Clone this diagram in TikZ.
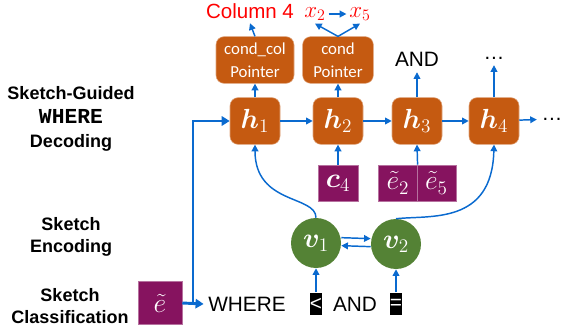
\documentclass[tikz,border=0pt]{standalone}
\usepackage{amsmath,amssymb,bm}
\usepackage{fontspec}
\setmainfont{Liberation Sans}
\setmonofont{Liberation Mono}
\newfontfamily\calibri{Carlito}
\usepackage{tikz}
\usetikzlibrary{arrows.meta}

\definecolor{hOrange}{HTML}{C55A11}
\definecolor{ePurple}{HTML}{86135F}
\definecolor{vGreen}{HTML}{548235}
\definecolor{aBlue}{HTML}{0A6ACF}

\tikzset{
  hbox/.style={fill=hOrange, draw=hOrange!55!white, line width=0.4pt, rounded corners=6pt,
    minimum width=37.5pt, minimum height=35pt, text=white, font=\huge, inner sep=0pt},
  ptrbox/.style={fill=hOrange, draw=hOrange!55!white, line width=0.4pt, rounded corners=6pt,
    minimum height=35pt, text=white, align=center, inner sep=0pt,
    font=\calibri\fontsize{12.6}{17}\selectfont},
  ebox/.style={fill=ePurple, draw=ePurple!60!white, line width=0.4pt, minimum height=27pt,
    text=white, font=\huge, inner sep=0pt},
  vnode/.style={circle, fill=vGreen, minimum size=37.5pt, text=white, font=\huge, inner sep=0pt},
  tok/.style={fill=black, text=white, minimum width=9pt, minimum height=17pt, inner sep=0pt,
    font=\fontsize{15.6}{18}\selectfont},
  arr/.style={draw=aBlue, line width=1.1pt, -{Triangle[length=5pt,width=5pt]}},
  bigarr/.style={draw=aBlue, line width=2.2pt, -{Triangle[length=6pt,width=7pt]}},
  side/.style={font=\bfseries\fontsize{13.5}{17}\selectfont, align=center},
  word/.style={font=\fontsize{15.6}{18}\selectfont},
}

\begin{document}
\begin{tikzpicture}[x=0.75pt,y=-0.75pt]
        \useasboundingbox (0,0) rectangle (562,335);

        % stage labels
        \node[side] (lbldec) at (71,119) {Sketch-Guided\\[1pt]{\ttfamily\fontsize{16}{18}\selectfont WHERE}\\[1pt]Decoding};
        \node[side] (lblenc) at (71,237) {Sketch\\Encoding};
        \node[side] (lblcls) at (70,306) {Sketch\\Classification};

        % decoder states
        \node[hbox] (h1) at (255,121) {$\bm{h}_1$};
        \node[hbox] (h2) at (338,121) {$\bm{h}_2$};
        \node[hbox] (h3) at (417,121) {$\bm{h}_3$};
        \node[hbox] (h4) at (494,121) {$\bm{h}_4$};
        \node[font=\fontsize{15.6}{18}\selectfont] (hdots) at (552,119) {\dots};

        % pointers and outputs
        \node[ptrbox, minimum width=58.5pt] (ptrcol) at (255,60) {cond\_col\\Pointer};
        \node[ptrbox, minimum width=53pt] (ptrcond) at (338,60) {cond\\Pointer};
        \node[word] (outand) at (417,59) {AND};
        \node[word] (outdots) at (494,58) {\dots};
        \node[text=red, font=\fontsize{15.4}{18}\selectfont] (col) at (250,11) {Column 4};
        \node[text=red, font=\LARGE, inner sep=2pt] (x2) at (315,14) {$x_2$};
        \node[text=red, font=\LARGE, inner sep=2pt] (x5) at (360,14) {$x_5$};

        % extra inputs
        \node[ebox, minimum width=30pt] (c4) at (338,183) {$\bm{c}_4$};
        \node[ebox, minimum width=29pt] (e2) at (398,183) {$\tilde{e}_2$};
        \node[ebox, minimum width=29pt] (e5) at (436.5,183) {$\tilde{e}_5$};

        % sketch encoder
        \node[vnode] (v1) at (316,243) {$\bm{v}_1$};
        \node[vnode] (v2) at (396,244) {$\bm{v}_2$};

        % classification
        \node[ebox, minimum width=33pt, minimum height=32pt] (etil) at (160,303) {$\tilde{e}$};
        \node[word] (where) at (247,304) {WHERE};
        \node[tok] (lt) at (316,304) {<};
        \node[word] (and) at (355,304) {AND};
        \node[tok] (eq) at (396,304) {=};
        \coordinate (split) at (193,303);

        \draw[bigarr] (etil.east) -- (where.west);
        \draw[bigarr] (split) |- (h1.west);

        \draw[arr] (h1) -- (h2);
        \draw[arr] (h2) -- (h3);
        \draw[arr] (h3) -- (h4);
        \draw[arr] (h4) -- (hdots);

        \draw[arr] (h1) -- (ptrcol);
        \draw[arr] (h2) -- (ptrcond);
        \draw[arr] (h3.north) -- ([yshift=-1pt]outand.south);
        \draw[arr] (h4.north) -- ([yshift=-1pt]outdots.south);
        \draw[arr] (ptrcol.north) -- (col.south);
        \draw[arr] (ptrcond.north) -- (x2.south);
        \draw[arr] (ptrcond.north) -- (x5.south);
        \draw[arr] (x2) -- (x5);

        \draw[arr] (c4) -- (h2);
        \draw[arr] (e2.north east) -- (h3.south);

        \draw[arr] (v1.north) .. controls (316,195) and (255,205) .. (h1.south);
        \draw[arr] (v2.north) .. controls (430,215) and (492,225) .. (h4.south);
        \draw[arr] ([yshift=4pt]v1.east) -- ([yshift=4pt]v2.west);
        \draw[arr] ([yshift=-2pt]v2.west) -- ([yshift=-2pt]v1.east);

        \draw[arr] (lt) -- (v1);
        \draw[arr] (eq) -- (v2);

    \end{tikzpicture}
\end{document}
